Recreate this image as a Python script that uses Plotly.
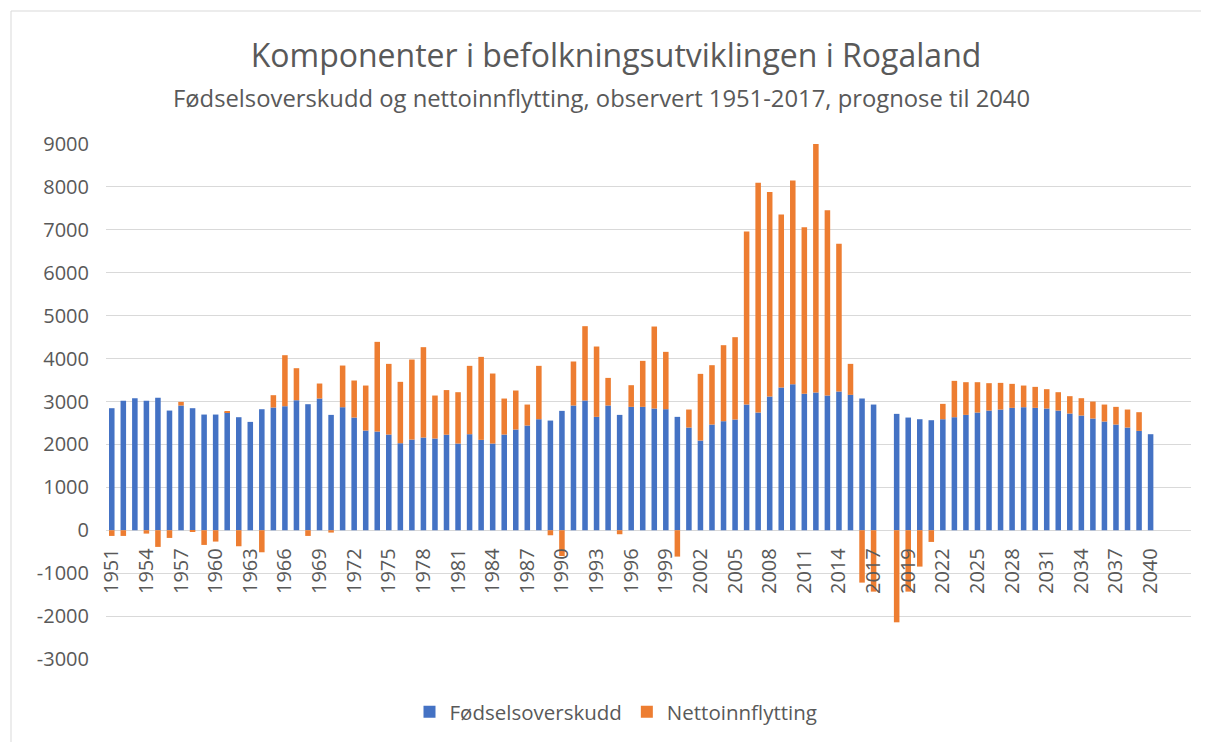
import plotly.graph_objects as go

# ---- data ----
categories = [str(y) for y in range(1951, 2018)] + [" "] + [str(y) for y in range(2018, 2041)]

fodselsoverskudd = [
    2844, 3015, 3077, 3015, 3085, 2789, 2906, 2844, 2696, 2696,   # 1951-1960
    2751, 2634, 2525, 2820, 2860, 2890, 3030, 2937, 3069, 2688,   # 1961-1970
    2867, 2626, 2323, 2300, 2230, 2028, 2113, 2160, 2137, 2226,   # 1971-1980
    2020, 2238, 2106, 2020, 2230, 2347, 2440, 2587, 2556, 2782,   # 1981-1990
    2906, 3023, 2642, 2906, 2688, 2875, 2875, 2836, 2821, 2642,   # 1991-2000
    2393, 2090, 2463, 2541, 2580, 2929, 2743, 3116, 3326, 3403,   # 2001-2010
    3178, 3209, 3139, 3232, 3155, 3069, 2929,                     # 2011-2017
    None,                                                          # gap
    2712, 2626, 2587, 2564, 2587, 2634, 2688, 2743, 2789, 2813,   # 2018-2027
    2852, 2867, 2852, 2836, 2789, 2720, 2673, 2603, 2533, 2463,   # 2028-2037
    2393, 2315, 2238,                                              # 2038-2040
]

nettoinnflytting = [
    -132, -132, 0, -78, -388, -179, 85, -20, -342, -264,          # 1951-1960
    15, -373, 0, -513, 287, 1189, 746, -132, 350, -54,            # 1961-1970
    971, 863, 1049, 2090, 1647, 1430, 1865, 2106, 1002, 1040,     # 1971-1980
    1197, 1593, 1934, 1632, 839, 909, 489, 1244, -117, -600,      # 1981-1990
    1026, 1732, 1639, 644, -93, 505, 1072, 1911, 1336, -614,      # 1991-2000
    420, 1554, 1383, 1771, 1919, 4033, 5353, 4763, 4032, 4748,    # 2001-2010
    3885, 5791, 4320, 3442, 722, -1220, -1430,                    # 2011-2017
    None,                                                          # gap
    -2145, -1430, -847, -272, 358, 847, 762, 707, 638, 621,       # 2018-2027
    559, 505, 489, 451, 428, 404, 404, 396, 396, 412,             # 2028-2037
    420, 436, 0,                                                   # 2038-2040
]

y_ticks = list(range(-3000, 9001, 1000))
y_tick_labels = [str(v) for v in y_ticks]
x_tick_labels = categories[0::3]

title_text = "Komponenter i befolkningsutviklingen i Rogaland"
subtitle_text = "Fødselsoverskudd og nettoinnflytting, observert 1951-2017, prognose til 2040"

# ---- figure ----
FONT = "Open Sans"
GREY = "#595959"
W, H = 1201, 734          # page body adds an 8px offset
L, T, R, B = 98, 136, 18, 83
PW, PH = W - L - R, H - T - B

def px_x(x):  # page pixel -> paper x
    return (x - 8 - L) / PW

def px_y(y):  # page pixel -> paper y
    return (H - B - (y - 8)) / PH

fig = go.Figure()
fig.add_trace(go.Bar(x=categories, y=fodselsoverskudd, name="Fødselsoverskudd",
                     marker=dict(color="#4472C4", line=dict(width=0))))
fig.add_trace(go.Bar(x=categories, y=nettoinnflytting, name="Nettoinnflytting",
                     marker=dict(color="#ED7D31", line=dict(width=0))))

fig.update_layout(
    width=W, height=H,
    barmode="relative", bargap=0.52,
    paper_bgcolor="white", plot_bgcolor="white",
    margin=dict(l=L, r=R, t=T, b=B, autoexpand=False),
    font=dict(family=FONT, color=GREY, size=20),
    title=dict(text=title_text, x=(616 - 8) / W, xanchor="center",
               y=1 - (56 - 8) / H, yanchor="middle", yref="container",
               font=dict(family=FONT, size=32, color=GREY)),
    legend=dict(orientation="h", x=px_x(616), xanchor="center",
                y=px_y(712), yanchor="middle", font=dict(size=20.5, color=GREY),
                traceorder="normal"),
    showlegend=True,
)
fig.add_annotation(text=subtitle_text, xref="paper", yref="paper",
                   x=px_x(601), y=px_y(98), xanchor="center", yanchor="middle",
                   showarrow=False, font=dict(family=FONT, size=23.8, color=GREY))

fig.update_xaxes(type="category", categoryorder="array", categoryarray=categories,
                 range=[-0.5, 93.5], anchor="free", position=0.25,
                 showgrid=False, showline=False, zeroline=False,
                 tickmode="array", tickvals=x_tick_labels, ticktext=x_tick_labels,
                 tickangle=-90, ticks="", ticklabelstandoff=13,
                 tickfont=dict(size=20, color=GREY))
fig.update_yaxes(range=[-3000, 9000], tickmode="array", tickvals=y_ticks,
                 ticktext=y_tick_labels,
                 showgrid=True, gridcolor="#d9d9d9", gridwidth=1,
                 zeroline=False, showline=False, ticks="", ticklabelstandoff=16,
                 tickfont=dict(size=20, color=GREY))

# outer chart border
fig.add_shape(type="rect", xref="paper", yref="paper",
              x0=px_x(11), x1=px_x(1230), y0=px_y(760), y1=px_y(11),
              line=dict(color="#d9d9d9", width=1), fillcolor="rgba(0,0,0,0)", layer="below")

fig.write_html("out.html")
